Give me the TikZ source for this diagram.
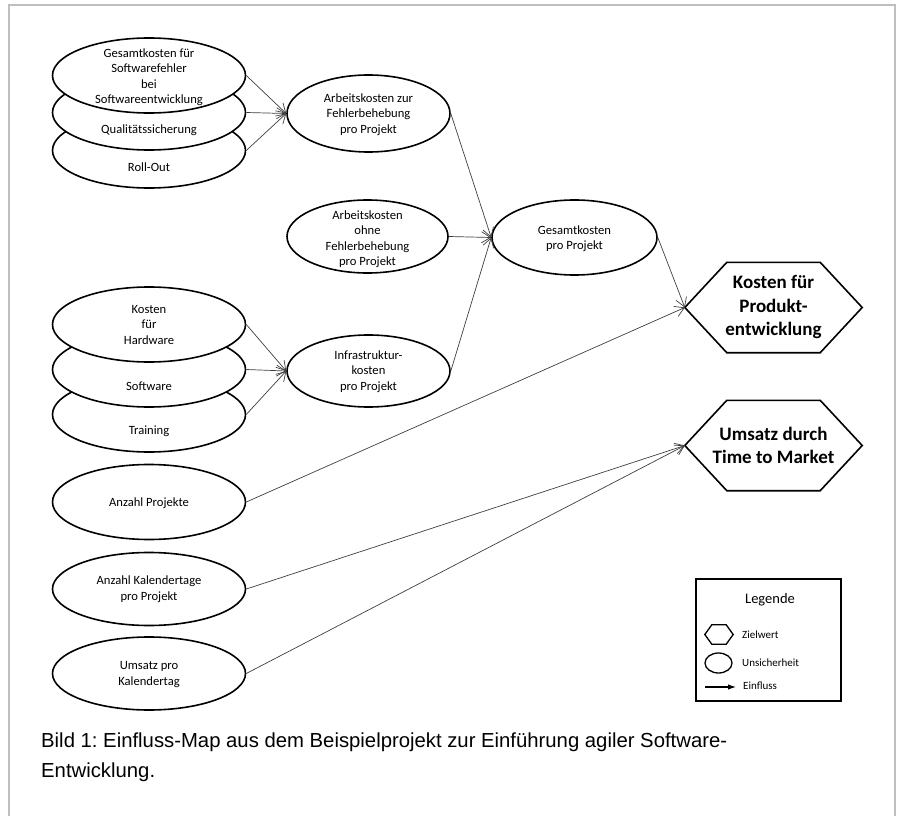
\documentclass[tikz,border=0pt]{standalone}
\usepackage{fontspec}
\setmainfont{Carlito}
\newfontfamily\capfont{Liberation Sans}
\usetikzlibrary{shapes.geometric,arrows.meta,calc}
\frenchspacing
\tikzset{
  el/.style={ellipse, draw, line width=1.6pt, fill=white, inner sep=0pt,
    minimum width=193pt, minimum height=75pt},
  elr/.style={el, minimum width=163pt, minimum height=75pt},
  txt/.style={align=center, inner sep=0pt, font=\fontsize{12.6}{15.5}\selectfont},
  hexbox/.style={inner sep=0pt, minimum width=177pt, minimum height=90pt, align=center,
    font=\fontsize{19}{23.5}\selectfont\bfseries},
  hexline/.style={line width=1.6pt, line join=miter},
  arr/.style={line width=0.7pt, draw=black!75, -{Straight Barb[length=9pt,width=11pt,line width=0.7pt]}},
  captxt/.style={anchor=base west, inner sep=0pt, font=\capfont\fontsize{20.3}{24}\selectfont},
}
\begin{document}
\begin{tikzpicture}[x=1pt,y=-1pt]
\useasboundingbox (0,0) rectangle (898,816);
\fill[white] (0,0) rectangle (898,816);
\draw[black!25, line width=2pt] (9,818) -- (9,5) -- (895,5) -- (895,818);

% top group
\node[el] (ro) at (149,150.5) {};
\node[el] (qs) at (149,112.5) {};
\node[el] (gk) at (149,75.5) {};
\node[txt] at (149,77) {Gesamtkosten für\\Softwarefehler\\bei\\Softwareentwicklung};
\node[txt] at (149,130) {Qualitätssicherung};
\node[txt] at (149,167) {Roll-Out};

% second group
\node[el] (tr) at (149,414.5) {};
\node[el] (sw) at (149,369.5) {};
\node[el] (hw) at (149,324.5) {};
\node[txt] at (149,325) {Kosten\\für\\Hardware};
\node[txt] at (149,386) {Software};
\node[txt] at (149,431) {Training};

% lower left
\node[el] (ap) at (149,502) {};
\node[txt] at (149,503) {Anzahl Projekte};
\node[el, minimum height=73pt] (ak) at (149,589) {};
\node[txt] at (149,589) {Anzahl Kalendertage\\pro Projekt};
\node[el, minimum height=73pt] (up) at (149,673.5) {};
\node[txt] at (149,674.5) {Umsatz pro\\Kalendertag};

% middle column
\node[elr, minimum height=77pt] (af) at (368.5,113.5) {};
\node[txt] at (368.5,114.5) {Arbeitskosten zur\\Fehlerbehebung\\pro Projekt};
\node[elr, minimum width=161pt, minimum height=73pt] (ao) at (367.5,236.5) {};
\node[txt] at (367.5,239) {Arbeitskosten\\ohne\\Fehlerbehebung\\pro Projekt};
\node[elr, minimum height=72pt] (inf) at (368.5,371) {};
\node[txt] at (368.5,371.5) {Infrastruktur-\\kosten\\pro Projekt};
\node[elr, minimum width=165pt] (gp) at (574.5,237.5) {};
\node[txt] at (574.5,238.5) {Gesamtkosten\\pro Projekt};

% hexagons
\node[hexbox] (kp) at (773.5,307.5) {Kosten für\\Produkt-\\entwicklung};
\draw[hexline] (kp.west) -- ($(kp.north west)+(42,0)$) -- ($(kp.north east)+(-42,0)$)
  -- (kp.east) -- ($(kp.south east)+(-42,0)$) -- ($(kp.south west)+(42,0)$) -- cycle;
\node[hexbox] (um) at (773.5,445.5) {Umsatz durch\\Time to Market};
\draw[hexline] (um.west) -- ($(um.north west)+(42,0)$) -- ($(um.north east)+(-42,0)$)
  -- (um.east) -- ($(um.south east)+(-42,0)$) -- ($(um.south west)+(42,0)$) -- cycle;

% connectors
\draw[arr] (gk.east) -- (af.west);
\draw[arr] (qs.east) -- (af.west);
\draw[arr] (ro.east) -- (af.west);
\draw[arr] (hw.east) -- (inf.west);
\draw[arr] (sw.east) -- (inf.west);
\draw[arr] (tr.east) -- (inf.west);
\draw[arr] (af.east) -- (gp.west);
\draw[arr] (ao.east) -- (gp.west);
\draw[arr] (inf.east) -- (gp.west);
\draw[arr] (gp.east) -- (kp.west);
\draw[arr] (ap.east) -- (kp.west);
\draw[arr] (ak.east) -- (um.west);
\draw[arr] (up.east) -- (um.west);

% legend
\node[draw, line width=1.4pt, minimum width=145pt, minimum height=122pt, inner sep=0pt] (leg) at (768.5,640) {};
\node[font=\fontsize{14.5}{17}\selectfont, inner sep=0pt] (legt) at (770,599.5) {Legende};
\node[inner sep=0pt, minimum width=28pt, minimum height=19pt] (lh) at (719,634.5) {};
\draw[line width=1.3pt] (lh.west) -- ($(lh.north west)+(7,0)$) -- ($(lh.north east)+(-7,0)$)
  -- (lh.east) -- ($(lh.south east)+(-7,0)$) -- ($(lh.south west)+(7,0)$) -- cycle;
\node[anchor=west, inner sep=0pt, font=\fontsize{11}{13}\selectfont] (lz) at (742,634.5) {Zielwert};
\node[ellipse, draw, line width=1.3pt, inner sep=0pt, minimum width=27pt, minimum height=20pt] (le) at (718.5,663) {};
\node[anchor=west, inner sep=0pt, font=\fontsize{11}{13}\selectfont] (lu) at (742,663) {Unsicherheit};
\coordinate (la1) at (705,687);
\coordinate (la2) at (736,687);
\draw[line width=1.1pt, -{Latex[length=8pt,width=5.5pt]}] (la1) -- (la2);
\node[anchor=west, inner sep=0pt, font=\fontsize{11}{13}\selectfont] (lf) at (743,686) {Einfluss};

% caption
\node[captxt] (cap1) at (41,747) {Bild 1: Einfluss-Map aus dem Beispielprojekt zur Einführung agiler Software-};
\node[captxt] (cap2) at (41,777) {Entwicklung.};
\end{tikzpicture}
\end{document}
